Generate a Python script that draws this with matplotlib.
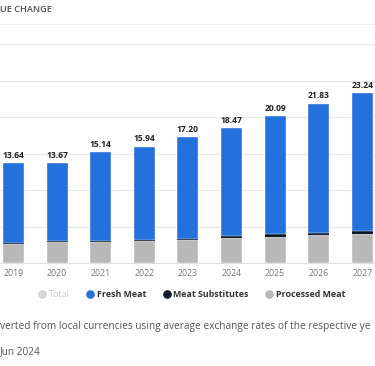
import matplotlib.pyplot as plt
from matplotlib.lines import Line2D
import numpy as np

years = ['2019', '2020', '2021', '2022', '2023', '2024', '2025', '2026', '2027']
total = [13.64, 13.67, 15.14, 15.94, 17.20, 18.47, 20.09, 21.83, 23.24]
processed_meat = [2.60, 2.85, 2.93, 3.02, 3.16, 3.40, 3.62, 3.90, 4.02]
meat_substitutes = [0.20, 0.12, 0.12, 0.15, 0.15, 0.25, 0.30, 0.15, 0.30]
fresh_meat = [t - p - s for t, p, s in zip(total, processed_meat, meat_substitutes)]

blue = '#2470dc'
navy = '#0f1b2b'
grey = '#b8b8b8'

plt.rcParams['font.family'] = ['Open Sans', 'DejaVu Sans']

fig = plt.figure(figsize=(3.75, 3.66), dpi=100)
W, H = 375.0, 366.0

# plot area: baseline at y=263px, value 30 at y=44px
ax = fig.add_axes([0, (H - 263) / H, 1, (263 - 44) / H])
x = np.arange(len(years))
w = 0.48
ax.bar(x, processed_meat, w, color=grey, edgecolor='white', linewidth=0.3, zorder=3)
ax.bar(x, meat_substitutes, w, bottom=processed_meat, color=navy, linewidth=0, zorder=3)
bottom2 = [p + s for p, s in zip(processed_meat, meat_substitutes)]
ax.bar(x, fresh_meat, w, bottom=bottom2, color=blue, edgecolor='white', linewidth=0.3, zorder=3)

for xi, t in zip(x, total):
    ax.text(xi, t + 0.45, f'{t:.2f}', ha='center', va='bottom', fontsize=6.1,
            fontweight='bold', color='#222222')

ax.set_xlim(-13.5 / 43.6, (W - 13.5) / 43.6)
ax.set_ylim(0, 30)
ax.set_yticks([5, 10, 15, 20, 25, 30])
ax.yaxis.grid(True, color='#e8e8e8', linewidth=0.8, zorder=0)
ax.tick_params(axis='y', left=False, labelleft=False)
ax.set_xticks(x)
ax.set_xticklabels(years, fontsize=6.3, color='#777777')
ax.tick_params(axis='x', length=0, pad=4)
for s in ['top', 'left', 'right']:
    ax.spines[s].set_visible(False)
ax.spines['bottom'].set_color('#e0e0e0')
ax.spines['bottom'].set_linewidth(0.8)

# header
fig.text(0.0, 1 - 9 / H, 'UE CHANGE', fontsize=6.6, fontweight='semibold',
         color='#4a4f55', ha='left', va='center')
fig.add_artist(Line2D([0, 1], [1 - 24 / H, 1 - 24 / H], color='#f0f0f0', linewidth=0.8))

# legend
handles = [
    Line2D([], [], marker='o', linestyle='', markersize=5.2, color='#d4d4d4'),
    Line2D([], [], marker='o', linestyle='', markersize=5.2, color=blue),
    Line2D([], [], marker='o', linestyle='', markersize=5.2, color=navy),
    Line2D([], [], marker='o', linestyle='', markersize=5.2, color=grey),
]
leg = fig.legend(handles, ['Total', 'Fresh Meat', 'Meat Substitutes', 'Processed Meat'],
                 loc='center', bbox_to_anchor=(192 / W, 1 - 294.5 / H), ncol=4,
                 frameon=False, fontsize=6.4, handletextpad=0.35, columnspacing=1.9,
                 handlelength=0.8)
for i, t in enumerate(leg.get_texts()):
    t.set_fontweight('bold')
    t.set_color('#cfcfcf' if i == 0 else '#333333')
    if i == 0:
        t.set_fontweight('normal')

fig.text(0.0, 1 - 326 / H,
         'verted from local currencies using average exchange rates of the respective ye',
         fontsize=7.3, color='#555555', ha='left', va='center')
fig.text(0.0, 1 - 352 / H, 'Jun 2024', fontsize=7.3, color='#555555', ha='left', va='center')

fig.savefig('out.png', dpi=100)
